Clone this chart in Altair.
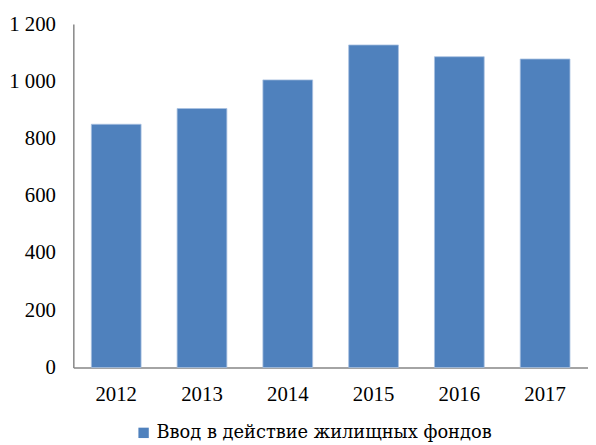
import altair as alt
import pandas as pd

years = ["2012", "2013", "2014", "2015", "2016", "2017"]
values = [850, 905, 1005, 1127, 1086, 1078]
series = "Ввод в действие жилищных фондов"

df = pd.DataFrame({"year": years, "value": values, "series": [series] * len(years)})

font = "Liberation Serif"

chart = alt.Chart(df).mark_bar(stroke="#A9C1E0", strokeWidth=0.8).encode(
    x=alt.X("year:N", title=None,
            scale=alt.Scale(paddingInner=0.42, paddingOuter=0.21),
            axis=alt.Axis(labelAngle=0, ticks=False, domainColor="#868686", domainWidth=1.5,
                          labelPadding=16, labelFont=font, labelFontSize=21, labelColor="#000")),
    y=alt.Y("value:Q", title=None,
            scale=alt.Scale(domain=[0, 1200], nice=False),
            axis=alt.Axis(values=[0, 200, 400, 600, 800, 1000, 1200], grid=False, ticks=False,
                          domainColor="#868686", domainWidth=1.5, labelPadding=18,
                          labelFont=font, labelFontSize=21, labelColor="#000",
                          labelExpr="replace(format(datum.value, ','), ',', ' ')")),
    fill=alt.Fill("series:N", scale=alt.Scale(range=["#4F81BD"]),
                  legend=alt.Legend(title=None, orient="none", legendX=62, legendY=404,
                                    symbolType="square", symbolSize=110, symbolStrokeWidth=0,
                                    labelFont="DejaVu Serif", labelFontSize=18,
                                    labelColor="#000", labelLimit=500)),
).properties(
    width=520, height=347,
    autosize=alt.AutoSizeParams(type="none"),
    padding={"left": 66, "top": 14, "right": 0, "bottom": 75},
).configure_view(stroke=None)

chart.save("out.html", embed_options={"renderer": "svg", "actions": False})
